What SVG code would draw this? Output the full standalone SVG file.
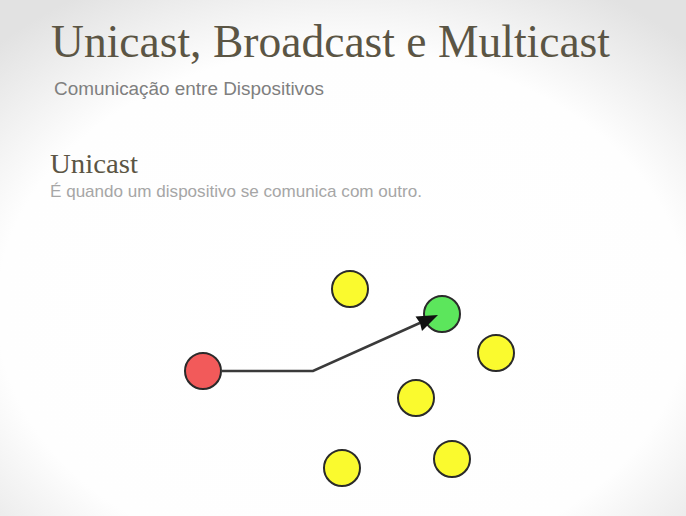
<svg xmlns="http://www.w3.org/2000/svg" width="686" height="516" viewBox="0 0 686 516">
<defs>
<radialGradient id="bg" cx="0.5" cy="0.6" r="0.72">
<stop offset="0" stop-color="#ffffff"/>
<stop offset="0.7" stop-color="#fefefe"/>
<stop offset="1" stop-color="#e2e2e2"/>
</radialGradient>
<style>
.node{stroke:#2a2a2a;stroke-width:2}
.yel{fill:#fafa2e}
.title{font-family:"Liberation Serif",serif;fill:#5b5544}
.sub{font-family:"Liberation Sans","DejaVu Sans",sans-serif;fill:#7f7f7f}
.body{font-family:"Liberation Sans","DejaVu Sans",sans-serif;fill:#a6a6a6}
.conn{fill:none;stroke:#3a3a3a;stroke-width:2.5}
</style>
</defs>
<rect width="686" height="516" fill="url(#bg)"/>
<text class="title" x="51" y="57" font-size="47" textLength="559" lengthAdjust="spacingAndGlyphs">Unicast, Broadcast e Multicast</text>
<text class="sub" x="54" y="95" font-size="18" textLength="270" lengthAdjust="spacingAndGlyphs">Comunicação entre Dispositivos</text>
<text class="title" x="50" y="173" font-size="28" textLength="88" lengthAdjust="spacingAndGlyphs">Unicast</text>
<text class="body" x="50" y="197" font-size="17" textLength="372" lengthAdjust="spacingAndGlyphs">É quando um dispositivo se comunica com outro.</text>
<g id="red"><circle class="node" cx="203" cy="371" r="18" fill="#f25a5a"/></g>
<g id="green"><circle class="node" cx="442" cy="314" r="18" fill="#5ce65c"/></g>
<g id="y1"><circle class="node yel" cx="350" cy="289" r="18"/></g>
<g id="y2"><circle class="node yel" cx="496" cy="353" r="18"/></g>
<g id="y3"><circle class="node yel" cx="416" cy="398" r="18"/></g>
<g id="y4"><circle class="node yel" cx="342" cy="468" r="18"/></g>
<g id="y5"><circle class="node yel" cx="452" cy="459" r="18"/></g>
<g id="connectors">
<polyline class="conn" points="221,371 313,371 422,322"/>
<path d="M438,315 L415.5,316.5 L420,323 L422,331 z" fill="#111"/>
</g>
</svg>
